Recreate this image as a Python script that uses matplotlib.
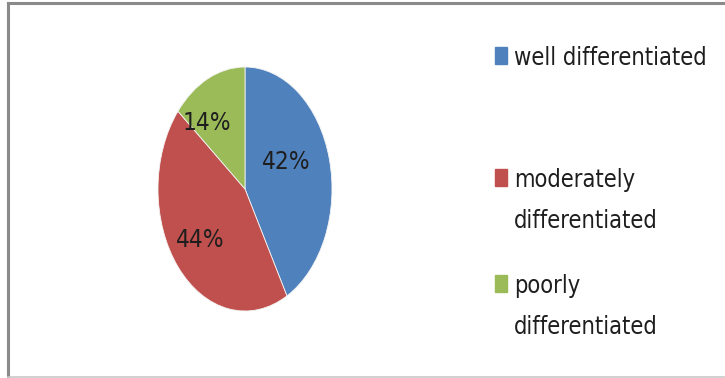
import matplotlib
matplotlib.use("Agg")
import matplotlib.pyplot as plt
from matplotlib.lines import Line2D
from matplotlib.patches import Rectangle

categories = ["well differentiated", "moderately\ndifferentiated", "poorly\ndifferentiated"]
values = [42, 44, 14]
colors = ["#4F81BD", "#C0504D", "#9BBB59"]

plt.rcParams['font.family'] = ["DejaVu Sans"]
FONT = dict(family="DejaVu Sans", stretch="condensed", color="#1e1e1e")

W, H = 725, 378
fig = plt.figure(figsize=(W / 100, H / 100), dpi=100)
fig.patch.set_facecolor("white")

# frame lines
fig.add_artist(Line2D([7.5 / W, 1.0], [1 - 3 / H, 1 - 3 / H], color="#8a8a8a", lw=2.2, transform=fig.transFigure))
fig.add_artist(Line2D([8 / W, 8 / W], [1 - 3 / H, 1 - 377 / H], color="#8a8a8a", lw=2.2, transform=fig.transFigure))
fig.add_artist(Line2D([8 / W, 1.0], [1 - 376.5 / H, 1 - 376.5 / H], color="#c8c8c8", lw=1.2, transform=fig.transFigure))

cx, cy, rx, ry = 245, 189, 87, 122
ax = fig.add_axes([(cx - rx) / W, 1 - (cy + ry) / H, 2 * rx / W, 2 * ry / H])
wedges, _ = ax.pie(values, colors=colors, startangle=90, counterclock=False, radius=1.0,
                   wedgeprops=dict(linewidth=0.6, edgecolor="#f4f4f4"))
ax.set_aspect("auto")
ax.set_xlim(-1, 1)
ax.set_ylim(-1, 1)
ax.axis("off")

label_pos = [(0.47, 0.22), (-0.52, -0.42), (-0.44, 0.54)]
for v, (x, y) in zip(values, label_pos):
    ax.text(x, y, f"{v}%", ha="center", va="center", fontsize=17.5, **FONT)

# legend
baselines = [65, 187, 293]
line_gap = 41
for lab, col, yb in zip(categories, colors, baselines):
    fig.add_artist(Rectangle((495 / W, 1 - (yb - 1) / H), 12 / W, 17 / H, color=col, transform=fig.transFigure))
    for i, line in enumerate(lab.split("\n")):
        fig.text(514 / W, 1 - (yb + i * line_gap) / H, line, ha="left", va="baseline", fontsize=17, **FONT)

fig.savefig("out.png", dpi=100, facecolor="white")
